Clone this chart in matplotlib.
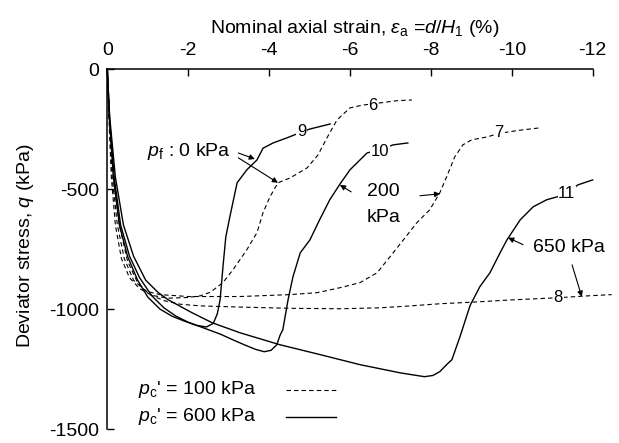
import matplotlib
matplotlib.use("Agg")
import matplotlib.pyplot as plt

plt.rcParams['font.family'] = ['Liberation Sans', 'DejaVu Sans']
plt.rcParams['mathtext.fontset'] = 'custom'
plt.rcParams['mathtext.rm'] = 'Liberation Sans'
plt.rcParams['mathtext.it'] = 'Liberation Sans:italic'
plt.rcParams['mathtext.bf'] = 'Liberation Sans:bold'
plt.rcParams['axes.unicode_minus'] = False

# ---- data (strain %, deviator stress kPa) ----
c6_x = [0, -0.04, -0.1, -0.2, -0.35, -0.55, -0.8, -1.1, -1.5, -2.0, -2.3, -2.55, -2.86, -3.11, -3.45, -3.70,
        -3.85, -4.02, -4.22, -4.52, -4.94, -5.21, -5.43, -5.68, -6.0, -6.32, -6.57, -7.16, -7.53]
c6_y = [0, -200, -450, -650, -790, -870, -915, -943, -955, -952, -945, -930, -890, -836, -753, -682,
        -599, -533, -474, -454, -412, -358, -287, -212, -162, -150, -145, -132, -129]

c7_x = [0, -0.05, -0.12, -0.25, -0.42, -0.65, -0.95, -1.3, -2.0, -3.28, -4.52, -5.19, -5.76, -6.25, -6.67,
        -6.99, -7.32, -7.65, -7.97, -8.22, -8.39, -8.59, -8.79, -9.01, -9.39, -9.69, -10.2, -10.7]
c7_y = [0, -200, -450, -650, -790, -880, -925, -940, -948, -948, -940, -932, -911, -890, -849,
        -782, -712, -641, -587, -516, -449, -366, -316, -295, -283, -268, -255, -245]

c8_x = [0, -0.06, -0.15, -0.3, -0.5, -0.75, -1.05, -1.4, -1.8, -2.3, -3.3, -4.5, -5.76, -6.74, -7.5,
        -8.23, -8.97, -10.0, -11.15, -11.8, -12.47]
c8_y = [0, -200, -450, -650, -800, -890, -940, -965, -980, -987, -992, -997, -999, -995, -987,
        -978, -972, -962, -953, -946, -940]

c9_x = [0, -0.05, -0.15, -0.3, -0.5, -0.75, -1.0, -1.3, -1.6, -1.9, -2.2, -2.45, -2.62, -2.72, -2.79,
        -2.86, -2.93, -3.03, -3.21, -3.45, -3.70, -3.85, -4.10, -4.44, -4.81, -5.01, -5.51]
c9_y = [0, -200, -450, -650, -780, -880, -950, -1000, -1030, -1050, -1068, -1075, -1060, -1020, -961,
        -824, -700, -616, -474, -420, -379, -330, -308, -287, -262, -250, -229]

c10_x = [0, -0.05, -0.17, -0.33, -0.55, -0.8, -1.1, -1.4, -1.7, -2.0, -2.4, -2.8, -3.1, -3.4, -3.68,
         -3.88, -4.05, -4.19, -4.27, -4.34, -4.47, -4.59, -4.77, -5.01, -5.25, -5.5, -5.75, -6.0,
         -6.42, -6.74, -7.07, -7.43]
c10_y = [0, -200, -450, -650, -780, -870, -945, -995, -1030, -1055, -1080, -1105, -1128, -1150, -1169,
         -1178, -1172, -1149, -1110, -1086, -961, -866, -766, -712, -628, -545, -480, -420,
         -350, -335, -316, -308]

c11_x = [0, -0.06, -0.2, -0.4, -0.65, -0.95, -1.25, -1.5, -2.09, -2.59, -3.28, -4.27, -5.26, -6.25,
         -7.24, -7.84, -8.05, -8.22, -8.4, -8.52, -8.72, -8.97, -9.21, -9.46, -9.71, -9.88, -10.21,
         -10.53, -10.86, -11.11, -11.36, -11.63, -12.0]
c11_y = [0, -200, -450, -650, -780, -880, -930, -961, -1015, -1057, -1099, -1149, -1190, -1232,
         -1266, -1282, -1277, -1261, -1230, -1211, -1115, -985, -907, -849, -766, -712, -628,
         -574, -545, -533, -520, -483, -462]

x_ticks = [0, -2, -4, -6, -8, -10, -12]
y_ticks = [0, -500, -1000, -1500]

fig = plt.figure(figsize=(6.19, 4.43), dpi=100)
ax = fig.add_axes([0.1733, 0.0316, 0.7842, 0.8126])

dash = (0, (4, 2.8))
lwd = 0.8
lws = 1.0
for xs, ys in [(c6_x, c6_y), (c7_x, c7_y), (c8_x, c8_y)]:
    ax.plot(xs, ys, color='black', lw=lwd, linestyle=dash, clip_on=False)
for xs, ys in [(c9_x, c9_y), (c10_x, c10_y), (c11_x, c11_y)]:
    ax.plot(xs, ys, color='black', lw=lws, clip_on=False)

ax.set_xlim(0, -12)
ax.set_ylim(-1500, 0)
ax.xaxis.tick_top()
ax.xaxis.set_label_position('top')
ax.set_xticks(x_ticks)
ax.set_xticklabels([str(v) for v in x_ticks])
ax.set_yticks(y_ticks)
ax.set_yticklabels([str(v) for v in y_ticks])
ax.tick_params(axis='x', direction='in', length=5, width=1, labelsize=14, pad=7)
ax.tick_params(axis='y', direction='in', length=5, width=1, labelsize=14, pad=6)
for s in ['right', 'bottom']:
    ax.spines[s].set_visible(False)
for s in ['left', 'top']:
    ax.spines[s].set_linewidth(1.1)

ax.set_xlabel(r"Nominal axial strain, $\varepsilon_{\mathrm{a}}$ =$d$/$H_{\mathrm{1}}$ (%)", fontsize=14)
ax.xaxis.set_label_coords(0.51, 1.10)
ax.set_ylabel(r"Deviator stress, $q$ (kPa)", fontsize=14)
ax.yaxis.set_label_coords(-0.146, 0.51)

# curve number labels
lab_kw = dict(fontsize=12, ha='center', va='center',
              bbox=dict(facecolor='white', edgecolor='none', pad=0.5))
ax.text(-6.57, -150, "6", **lab_kw)
ax.text(-9.69, -266, "7", **lab_kw)
ax.text(-11.15, -953, "8", **lab_kw)
ax.text(-4.81, -262, "9", **lab_kw)
ax.text(-6.74, -345, "10", **lab_kw)
ax.text(-11.36, -520, "11", **lab_kw)

# annotations
ax.text(-0.98, -345, r"$p_{\mathrm{f}}$ : 0 kPa", fontsize=14, ha='left', va='center')
ax.text(-6.42, -512, "200", fontsize=14, ha='left', va='center')
ax.text(-6.42, -620, "kPa", fontsize=14, ha='left', va='center')
ax.text(-10.52, -745, "650 kPa", fontsize=14, ha='left', va='center')

arr = dict(arrowstyle='-|>', color='black', lw=0.8, mutation_scale=8, shrinkA=0, shrinkB=0)
ax.annotate('', xy=(-3.65, -375), xytext=(-3.24, -350), arrowprops=arr)
ax.annotate('', xy=(-4.22, -474), xytext=(-3.24, -370), arrowprops=arr)
ax.annotate('', xy=(-5.75, -483), xytext=(-6.03, -512), arrowprops=arr)
ax.annotate('', xy=(-8.23, -520), xytext=(-7.73, -528), arrowprops=arr)
ax.annotate('', xy=(-9.91, -703), xytext=(-10.28, -732), arrowprops=arr)
ax.annotate('', xy=(-11.73, -949), xytext=(-11.49, -816), arrowprops=arr)

# legend (manual)
ax.text(-0.76, -1336, r"$p_{\mathrm{c}}$' = 100 kPa", fontsize=14, ha='left', va='center')
ax.text(-0.76, -1448, r"$p_{\mathrm{c}}$' = 600 kPa", fontsize=14, ha='left', va='center')
ax.plot([-4.42, -5.65], [-1336, -1336], color='black', lw=lwd, linestyle=dash)
ax.plot([-4.42, -5.65], [-1448, -1448], color='black', lw=lws)

fig.savefig("out.png", dpi=100)
